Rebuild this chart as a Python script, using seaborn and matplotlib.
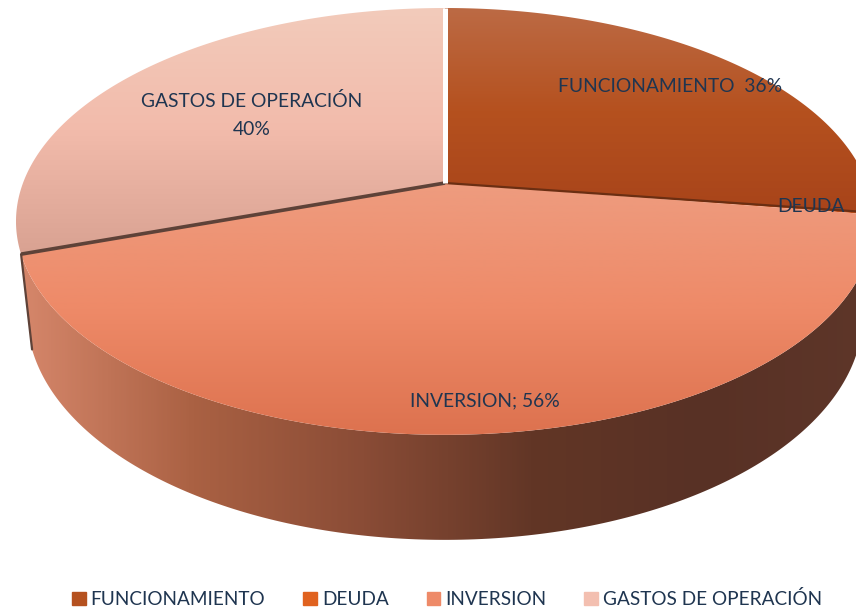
import numpy as np
import matplotlib
matplotlib.use("Agg")
import matplotlib.pyplot as plt
from matplotlib.patches import Polygon, Patch
import seaborn as sns

categorias = ["FUNCIONAMIENTO", "DEUDA", "INVERSION", "GASTOS DE OPERACIÓN"]
valores = [36, 0.2, 56, 40]
etiquetas = ["FUNCIONAMIENTO  36%", "DEUDA", "INVERSION; 56%", "GASTOS DE OPERACIÓN\n40%"]

#Colores de arriba hacia abajo en cada sector
col_func = ["#BC6A44", "#B5511F", "#A8441A"]
col_deuda = ["#E0621F", "#D85A1C", "#C9521A"]
col_inv = ["#EE9C7F", "#EE8A68", "#DD724F"]
col_gastos = ["#F3CBBB", "#F2BBAB", "#D9A292"]
col_pared = ["#D5866A", "#AA6143", "#8A4C36", "#623626", "#583125", "#5E3629"]
col_leyenda = ["#B5511F", "#E0621F", "#EE8A68", "#F3BFB0"]
col_texto = "#1F3550"

sns.set_theme(style="white")
plt.rcParams["font.family"] = ["Lato", "DejaVu Sans"]

fig = plt.figure(figsize=(8.56, 6.12), dpi=100)
ax = fig.add_axes([0, 0, 1, 1])
ax.set_xlim(0, 856)
ax.set_ylim(612, 0)
ax.axis("off")

#Proyeccion de la torta con perspectiva
cx, cy, rx, ry, k = 445, 183, 422, 206.5, 0.18
def proy(t, escala=1.0, caida=0.0):
    u, v = np.sin(t), np.cos(t)
    s = 1 / (1 + k * v)
    return cx + rx * u * s * escala, cy - ry * v * s * escala + caida * s

def degradado(colores, poly, vertical=True):
    pal = np.array(sns.blend_palette(colores, 200))
    ymin, ymax = poly[:, 1].min(), poly[:, 1].max()
    xmin, xmax = poly[:, 0].min(), poly[:, 0].max()
    img = pal[:, None, :] if vertical else pal[None, :, :]
    im = ax.imshow(img, extent=(xmin, xmax, ymax, ymin), aspect="auto", zorder=2, interpolation="bilinear")
    im.set_clip_path(Polygon(poly, closed=True, transform=ax.transData))

total = sum(valores)
bordes = np.r_[0, np.cumsum(valores)] / total * 2 * np.pi

#Pared lateral de la inversion
t = np.linspace(bordes[2] + 0.02, bordes[3], 200)
x1, y1 = proy(t)
x2, y2 = proy(t[::-1], 0.974, 91.5)
pared = np.c_[np.r_[x1, x2], np.r_[y1, y2]]
degradado(col_pared, pared, vertical=False)

#Cara superior
colores = [col_func, col_deuda, col_inv, col_gastos]
for i in range(4):
    t = np.linspace(bordes[i], bordes[i + 1], 150)
    x, y = proy(t)
    poly = np.c_[np.r_[cx, x], np.r_[cy, y]]
    degradado(colores[i], poly)

#Lineas entre sectores
xb, yb = proy(bordes[1])
ax.plot([cx, xb], [cy, yb], color="#6B2E12", lw=1.6, zorder=3)
xb, yb = proy(bordes[3])
ax.plot([cx, xb], [cy, yb], color="#5E4238", lw=2.6, zorder=3, solid_capstyle="butt")
xp, yp = proy(bordes[3], 0.974, 91.5)
ax.plot([xb, xp], [yb, yp], color="#5E4238", lw=1.6, zorder=3)
xb, yb = proy(bordes[0])
ax.plot([cx, xb], [cy, yb], color="white", lw=3.6, zorder=3, solid_capstyle="butt")

#Etiquetas
pos = [(670, 87), (811, 207), (485, 401), (252, 115)]
for e, p in zip(etiquetas, pos):
    ax.text(p[0], p[1], e, ha="center", va="center", fontsize=13.9, color=col_texto, zorder=4, linespacing=1.75)

#Leyenda
manijas = [Patch(color=c) for c in col_leyenda]
ax.legend(manijas, categorias, ncols=4, loc="center", bbox_to_anchor=(447 / 856, 1 - 599 / 612),
          frameon=False, fontsize=13.7, labelcolor=col_texto, handlelength=0.72, handleheight=0.72,
          handletextpad=0.26, columnspacing=2.0, borderpad=0)

fig.savefig("out.png", dpi=100)
